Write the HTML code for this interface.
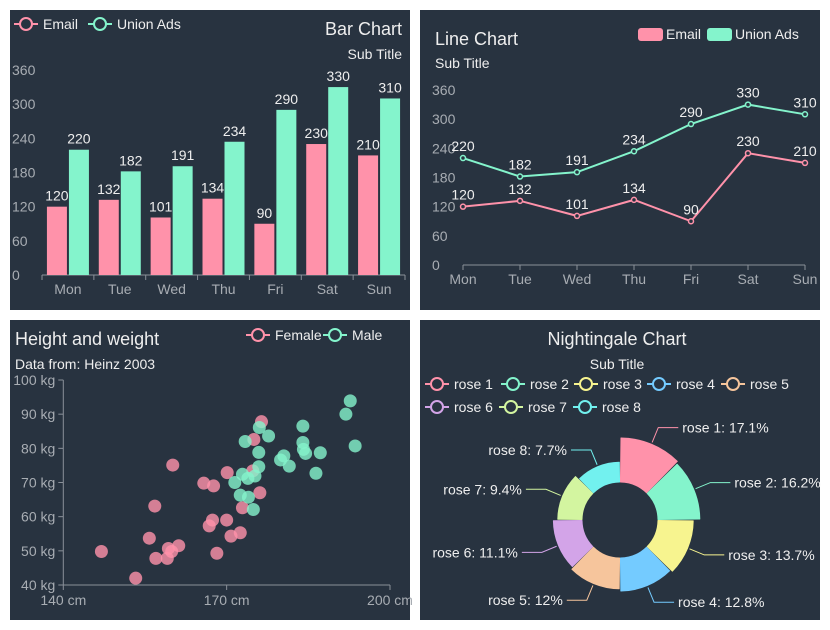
<!DOCTYPE html>
<html><head><meta charset="utf-8">
<style>
body{margin:0;background:#fff;width:830px;height:630px;overflow:hidden;font-family:"Liberation Sans",sans-serif}
svg{position:absolute;left:0;top:0}
</style></head>
<body>
<svg id="s" width="830" height="630" font-family="Liberation Sans, sans-serif"></svg>
<script>
const days=['Mon','Tue','Wed','Thu','Fri','Sat','Sun'];
const emailVals=[120,132,101,134,90,230,210];
const unionVals=[220,182,191,234,290,330,310];
const yTicks=[0,60,120,180,240,300,360];
const femaleH=[147.0,153.3,155.8,156.8,157.0,159.1,159.3,159.9,161.2,160.1,165.8,166.8,167.4,167.6,168.2,170.0,170.1,170.8,172.5,172.9,174.8,175.0,176.1,176.4];
const femaleW=[49.8,42.0,53.7,63.1,47.8,47.8,50.7,49.8,51.5,75.1,69.8,57.3,59.0,69.0,49.3,59.0,72.9,54.3,55.3,62.6,73.4,82.6,67.0,87.8];
const maleH=[173.4,171.5,172.9,173.9,172.5,174.0,174.9,175.2,175.9,175.9,176.0,177.7,179.9,180.5,181.5,184.0,184.0,184.1,184.5,186.4,187.2,191.9,192.7,193.6];
const maleW=[82.0,70.0,72.4,71.2,66.3,65.7,62.1,71.9,74.6,78.8,86.1,83.6,76.6,77.8,74.8,86.5,81.7,79.7,78.5,72.7,78.7,90.0,93.9,80.7];
const xTicksS=[140,170,200];
const yTicksS=[40,50,60,70,80,90,100];
const roseNames=['rose 1','rose 2','rose 3','rose 4','rose 5','rose 6','rose 7','rose 8'];
const roseVals=[40,38,32,30,28,26,22,18];
const roseLabels=['17.1%','16.2%','13.7%','12.8%','12%','11.1%','9.4%','7.7%'];

const S=document.getElementById('s');const NS='http://www.w3.org/2000/svg';
function el(t,a,p,txt){const e=document.createElementNS(NS,t);for(const k in a)e.setAttribute(k,a[k]);if(txt!==undefined)e.textContent=txt;(p||S).appendChild(e);return e;}
const PINK='#ff92aa',GREEN='#84f4cc',BG='#283340',TXT='#eeeeee',AX='#8a9099',LBL='#a8adb3';
const panels=[['bar-chart-panel',10,10],['line-chart-panel',420,10],['scatter-chart-panel',10,320],['nightingale-chart-panel',420,320]];
panels.forEach(p=>{const r=el('rect',{x:p[1],y:p[2],width:400,height:300,fill:BG});});
function txt(x,y,s,o){const a=Object.assign({x:x,y:y,fill:TXT,'font-size':14},o||{});const t=el('text',a,null,s);return t;}
function legendCircle(x,y,c,label,name){const g=el('g',{});
 el('line',{x1:x,y1:y,x2:x+24,y2:y,stroke:c,'stroke-width':2},g);el('circle',{cx:x+12,cy:y,r:6,fill:BG,stroke:c,'stroke-width':2},g);
 el('text',{x:x+29,y:y+5,fill:TXT,'font-size':14},g,label);}
// ===== Bar chart
(function(){
 const x0=42,x1=405,y0=275,y1=70,band=(x1-x0)/days.length;
 const ys=v=>y0-(v/360)*(y0-y1);
 legendCircle(14,24,PINK,'Email','legend-email');legendCircle(88,24,GREEN,'Union Ads','legend-union-ads');
 let t=txt(402,35,'Bar Chart',{'font-size':18,'text-anchor':'end'});
 t=txt(402,59,'Sub Title',{'text-anchor':'end'});
 yTicks.forEach(v=>{const l=txt(12,ys(v)+5,String(v),{fill:LBL});});
 el('line',{x1:x0,y1:y0,x2:x1,y2:y0,stroke:AX,'stroke-width':1});
 days.forEach((d,i)=>{const cx=x0+band*(i+0.5);
  el('line',{x1:x0+band*i,y1:y0,x2:x0+band*i,y2:y0+5,stroke:AX});
  const l=txt(cx,y0+19,d,{fill:LBL,'text-anchor':'middle'});
  [[emailVals[i],PINK,-21,'bar-email'],[unionVals[i],GREEN,1,'bar-union-ads']].forEach(b=>{
   const r=el('rect',{x:cx+b[2],y:ys(b[0]),width:20,height:y0-ys(b[0]),fill:b[1]});
   
   txt(cx+b[2]+10,ys(b[0])-6,String(b[0]),{'text-anchor':'middle'});});
 });
 el('line',{x1:x1,y1:y0,x2:x1,y2:y0+5,stroke:AX});
})();
// ===== Line chart
(function(){
 const x0=463,x1=805,y0=265,y1=90,st=(x1-x0)/(days.length-1);
 const ys=v=>y0-(v/360)*(y0-y1),xs=i=>x0+st*i;
 [[638,'Email',PINK,'legend-email-line'],[707,'Union Ads',GREEN,'legend-union-ads-line']].forEach(l=>{const g=el('g',{});
  el('rect',{x:l[0],y:28,width:25,height:13,rx:3,fill:l[2]},g);el('text',{x:l[0]+28,y:39,fill:TXT,'font-size':14},g,l[1]);});
 let t=txt(435,45,'Line Chart',{'font-size':18});
 t=txt(435,68,'Sub Title');
 yTicks.forEach(v=>{txt(432,ys(v)+5,String(v),{fill:LBL});});
 el('line',{x1:x0,y1:y0,x2:x1,y2:y0,stroke:AX});
 days.forEach((d,i)=>{el('line',{x1:xs(i),y1:y0,x2:xs(i),y2:y0+5,stroke:AX});txt(xs(i),y0+19,d,{fill:LBL,'text-anchor':'middle'});});
 [[emailVals,PINK,'line-email'],[unionVals,GREEN,'line-union-ads']].forEach(s=>{
  const p=el('polyline',{points:s[0].map((v,i)=>xs(i)+','+ys(v)).join(' '),fill:'none',stroke:s[1],'stroke-width':2});
  
  s[0].forEach((v,i)=>{const c=el('circle',{cx:xs(i),cy:ys(v),r:2.5,fill:BG,stroke:s[1],'stroke-width':1.5});
   txt(xs(i),ys(v)-7,String(v),{'text-anchor':'middle'});});});
})();
// ===== Scatter
(function(){
 const x0=63.3,x1=390,y0=585,y1=380;
 const xs=v=>x0+(v-140)/60*(x1-x0),ys=v=>y0-(v-40)/60*(y0-y1);
 legendCircle(246,335,PINK,'Female','legend-female');legendCircle(323,335,GREEN,'Male','legend-male');
 let t=txt(15,345,'Height and weight',{'font-size':18});
 t=txt(15,369,'Data from: Heinz 2003');
 el('line',{x1:x0,y1:y1,x2:x0,y2:y0,stroke:AX});el('line',{x1:x0,y1:y0,x2:x1,y2:y0,stroke:AX});
 yTicksS.forEach(v=>{el('line',{x1:x0-5,y1:ys(v),x2:x0,y2:ys(v),stroke:AX});txt(x0-8,ys(v)+5,v+' kg',{fill:LBL,'text-anchor':'end'});});
 xTicksS.forEach(v=>{el('line',{x1:xs(v),y1:y0,x2:xs(v),y2:y0+5,stroke:AX});txt(xs(v),y0+20,v+' cm',{fill:LBL,'text-anchor':'middle'});});
 [[femaleH,femaleW,PINK,'point-female'],[maleH,maleW,GREEN,'point-male']].forEach(s=>{
  s[0].forEach((h,i)=>{const c=el('circle',{cx:xs(h),cy:ys(s[1][i]),r:6.5,fill:s[2],'fill-opacity':0.8});});});
})();
// ===== Nightingale
(function(){
 const cols=['#ff92aa','#84f4cc','#f7f48f','#74cbff','#f6c59c','#d3a4e8','#d3f5a0','#72f1ef'];
 const cx=620,cy=520,r0=38,r1=82,mx=Math.max(...roseVals);
 let t=txt(617,345,'Nightingale Chart',{'font-size':18,'text-anchor':'middle'});
 t=txt(617,369,'Sub Title',{'text-anchor':'middle'});
 const lx=[425,501,574,647,721,425,499,573];
 roseNames.forEach((n,i)=>legendCircle(lx[i],i<5?384:407,cols[i],n,'legend-'+n.replace(' ','-')));
 const pt=(a,r)=>[cx+r*Math.sin(a),cy-r*Math.cos(a)];
 const step=2*Math.PI/roseVals.length;
 roseVals.forEach((v,i)=>{const r=r0+v/mx*(r1-r0),a0=i*step+0.012,a1=(i+1)*step-0.012;
  const A=pt(a0,r0),B=pt(a0,r),C=pt(a1,r),D=pt(a1,r0);
  const p=el('path',{d:`M${A}L${B}A${r},${r} 0 0 1 ${C}L${D}A${r0},${r0} 0 0 0 ${A}Z`,fill:cols[i],stroke:cols[i],'stroke-width':1,'stroke-linejoin':'round'});
  
  const am=(i+0.5)*step,P=pt(am,r+2),E=pt(am,r+18),right=Math.sin(am)>0,ex=E[0]+(right?20:-20);
  el('polyline',{points:`${P} ${E} ${ex},${E[1]}`,fill:'none',stroke:cols[i],'stroke-width':1});
  txt(ex+(right?4:-4),E[1]+5,n=roseNames[i]+': '+roseLabels[i],{'text-anchor':right?'start':'end'});
 });
 var n;
})();
</script>
</body></html>
